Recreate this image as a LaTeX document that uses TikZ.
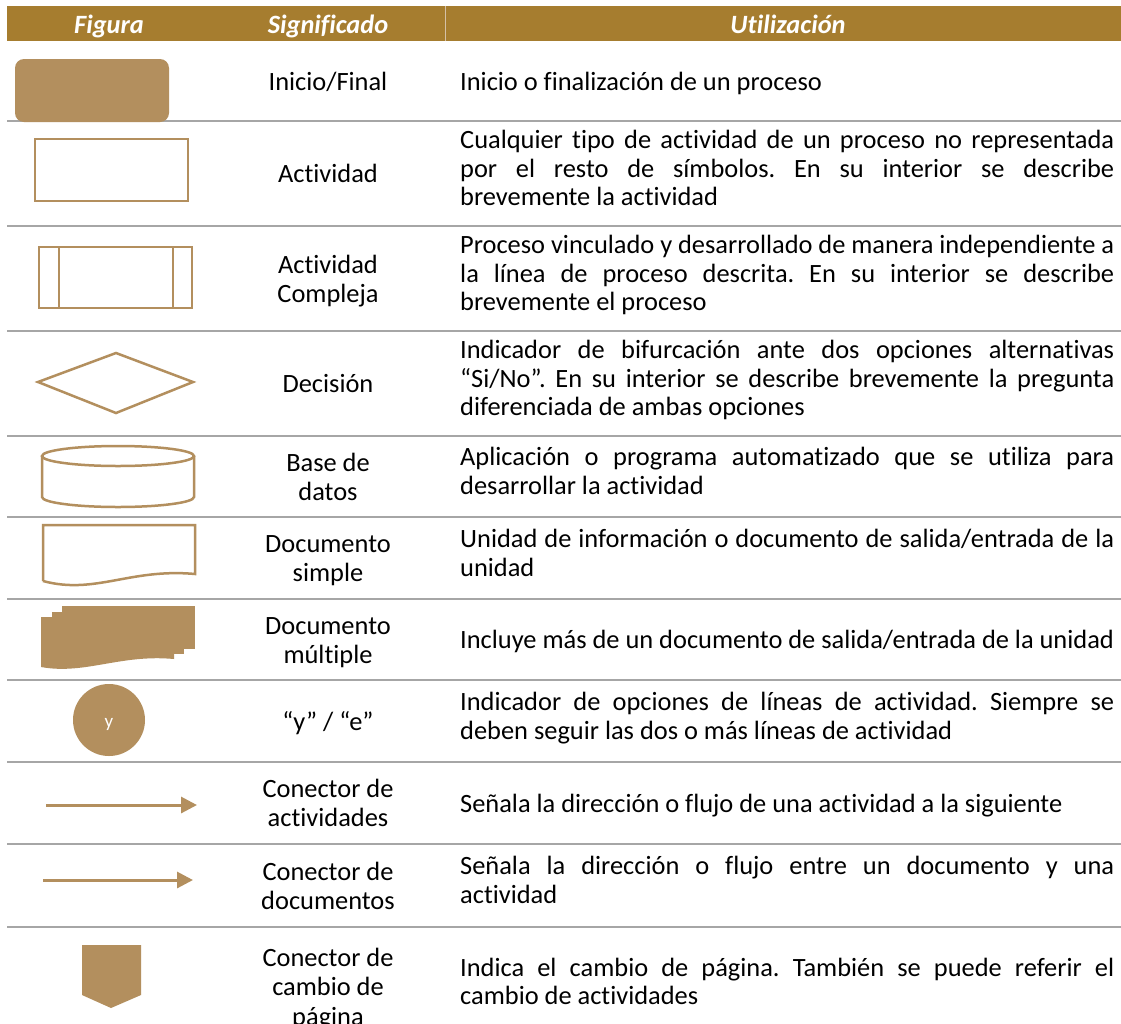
\documentclass[tikz,border=0pt]{standalone}
\usepackage{fontspec}
\setmainfont{Carlito}[Ligatures={NoCommon}]
\usetikzlibrary{arrows.meta}
\definecolor{hdr}{RGB}{166,125,47}
\definecolor{shp}{RGB}{179,143,94}
\definecolor{sepc}{RGB}{166,166,166}
\hyphenpenalty=10000
\exhyphenpenalty=10000
\newcommand{\ns}{\spaceskip=0pt\xspaceskip=0pt\frenchspacing}
\newcommand{\nc}{\spaceskip=\fontdimen2\font\relax\xspaceskip=\fontdimen2\font\relax\frenchspacing}
\tikzset{
  txt/.style={font=\fontsize{26.4}{28.8}\selectfont, inner sep=0pt, text=black},
  desc/.style={txt, text width=654pt, align=justify, anchor=base west},
  mean/.style={txt, text width=230pt, align=center, anchor=base},
  head/.style={font=\fontsize{26.4}{29}\selectfont\bfseries\itshape, text=white, inner sep=0pt, anchor=base},
  symline/.style={draw=shp, line width=2.5pt},
  sepline/.style={draw=sepc, line width=2.5pt},
  conn/.style={draw=shp, line width=3pt, -{Triangle[length=16pt,width=16pt]}},
}
\begin{document}
\begin{tikzpicture}[x=1pt,y=-1pt]
\useasboundingbox (0,0) rectangle (1121,1023);
\clip (0,0) rectangle (1121,1023);
\fill[white] (0,0) rectangle (1121,1023);

% header
\fill[hdr] (7,6) rectangle (1121,41);
\draw[shp!55!white, line width=0.8pt] (445,6) -- (445,41);
\node[head] (hfig) at (109,33) {\nc Figura};
\node[head] (hsig) at (328,33) {\nc Significado};
\node[head] (huti) at (788,33) {\nc Utilización};

% separators
\foreach \yy in {121,226,331,436,517,599,680,762,844,927}{
  \draw[sepline] (7,\yy) -- (212,\yy);
  \draw[sepline] (212,\yy) -- (445,\yy);
  \draw[sepline] (445,\yy) -- (1121,\yy);
}

% ---- symbols ----
% 1 inicio/final
\fill[shp, rounded corners=9pt] (15,59) rectangle (169,122);
% 2 actividad
\draw[symline] (35,139) rectangle (188,201);
% 3 actividad compleja
\draw[symline] (39,247) rectangle (192,308);
\draw[symline] (59,247) -- (59,308);
\draw[symline] (173,247) -- (173,308);
% 4 decision
\draw[symline] (38,382) -- (116,353) -- (193,382) -- (116,413) -- cycle;
% 5 base de datos
\draw[symline] (118,456) ellipse [x radius=76, y radius=10];
\draw[symline] (42,456) -- (42,497) arc[start angle=180, end angle=360, x radius=76, y radius=-10] -- (194,456);
% 6 documento simple
\draw[symline] (43,581) -- (43,525) -- (195,525) -- (195,574)
  .. controls (130,568) and (95,595) .. (43,581);
% 7 documento multiple
\fill[shp] (62,606) rectangle (195,649);
\fill[shp] (52,612) rectangle (184,654);
\fill[shp] (41,617) -- (174,617) -- (174,659)
  .. controls (120,654) and (85,675) .. (41,667) -- cycle;
% 8 y/e
\node[circle, fill=shp, minimum size=72pt, inner sep=0pt] (ye) at (109,720) {};
\node[font=\fontsize{19}{22}\selectfont, text=white, inner sep=0pt, anchor=base] (yet) at (109,727) {y};
% 9 conector de actividades
\coordinate (a1) at (46,805);
\coordinate (a2) at (197,805);
\draw[conn] (a1) -- (a2);
% 10 conector de documentos
\coordinate (b1) at (43,880);
\coordinate (b2) at (193,880);
\draw[conn] (b1) -- (b2);
% 11 conector de cambio de pagina
\fill[shp] (82,945) -- (141,945) -- (141,995) -- (111,1008) -- (82,995) -- cycle;

% ---- significado ----
\node[mean] (m1) at (328,90) {\nc Inicio/Final};
\node[mean] (m2) at (328,182.6) {\nc Actividad};
\node[mean] (m3) at (328,273.2) {\nc Actividad\\Compleja};
\node[mean] (m4) at (328,392.6) {\nc Decisión};
\node[mean] (m5) at (328,471.2) {\nc Base de\\datos};
\node[mean] (m6) at (328,552.7) {\nc Documento\\simple};
\node[mean] (m7) at (328,634.2) {\nc Documento\\múltiple};
\node[mean] (m8) at (328,730.1) {\nc “y” / “e”};
\node[mean] (m9) at (328,797.7) {\nc Conector de\\actividades};
\node[mean] (m10) at (328,880.2) {\nc Conector de\\documentos};
\node[mean, font=\fontsize{26.4}{29.5}\selectfont] (m11) at (328,966) {\nc Conector de\\cambio de\\página};

% ---- utilizacion ----
\node[desc] (u1) at (460,90) {\ns Inicio o finalización de un proceso};
\node[desc] (u2) at (460,148.3) {\ns Cualquier tipo de actividad de un proceso no representada\linebreak por el resto de símbolos. En su interior se describe\linebreak brevemente la actividad};
\node[desc] (u3) at (460,253.3) {\ns Proceso vinculado y desarrollado de manera independiente a\linebreak la línea de proceso descrita. En su interior se describe\linebreak brevemente el proceso};
\node[desc] (u4) at (460,358.3) {\ns Indicador de bifurcación ante dos opciones alternativas\linebreak “Si/No”. En su interior se describe brevemente la pregunta\linebreak diferenciada de ambas opciones};
\node[desc] (u5) at (460,465.7) {\ns Aplicación o programa automatizado que se utiliza para\linebreak desarrollar la actividad};
\node[desc] (u6) at (460,547.2) {\ns Unidad de información o documento de salida/entrada de la\linebreak unidad};
\node[desc] (u7) at (460,648.6) {\ns Incluye más de un documento de salida/entrada de la unidad};
\node[desc] (u8) at (460,710.2) {\ns Indicador de opciones de líneas de actividad. Siempre se\linebreak deben seguir las dos o más líneas de actividad};
\node[desc] (u9) at (460,812.1) {\ns Señala la dirección o flujo de una actividad a la siguiente};
\node[desc] (u10) at (460,874.7) {\ns Señala la dirección o flujo entre un documento y una\linebreak actividad};
\node[desc] (u11) at (460,976) {\ns Indica el cambio de página. También se puede referir el\linebreak cambio de actividades};
\end{tikzpicture}
\end{document}
